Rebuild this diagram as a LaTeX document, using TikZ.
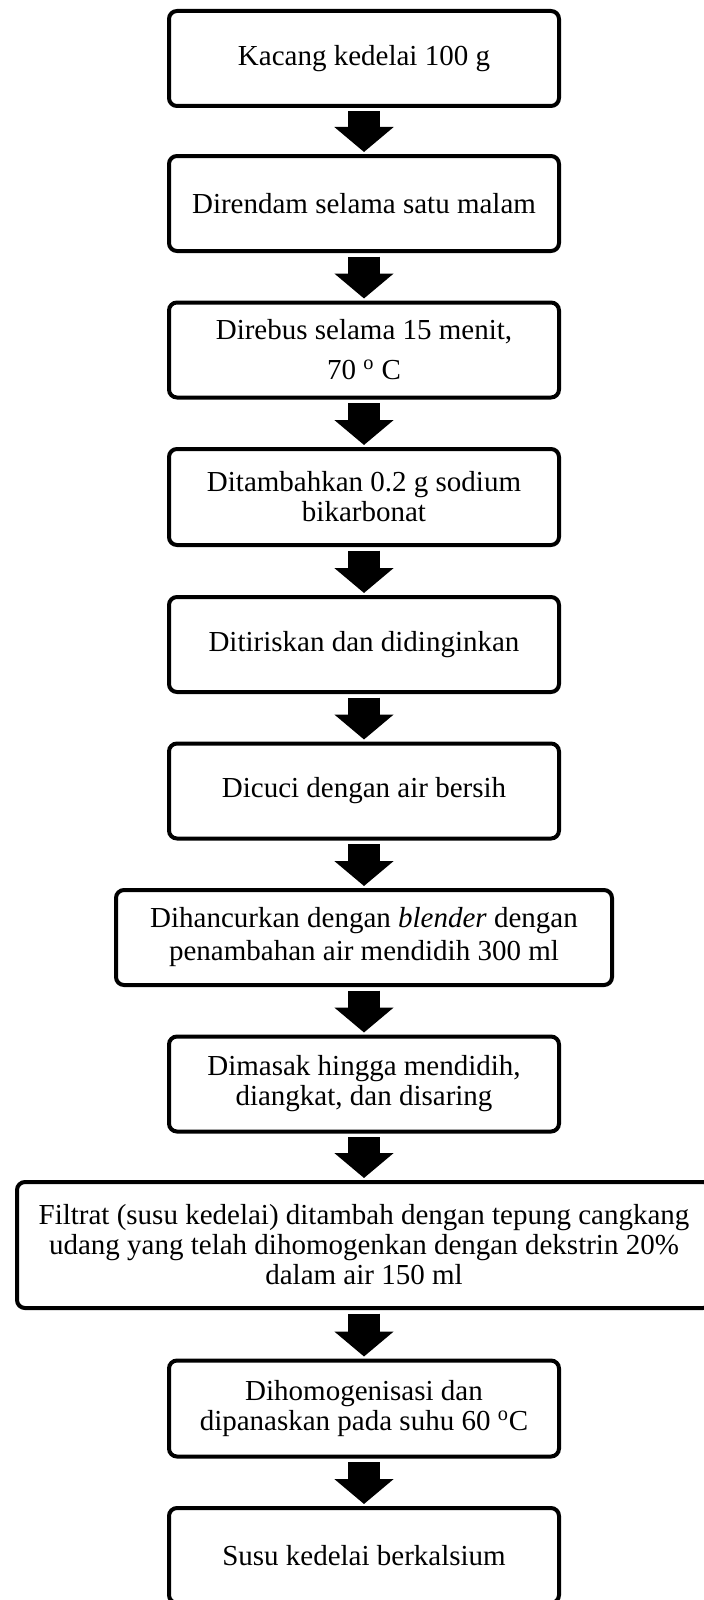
\documentclass[tikz,border=0pt]{standalone}
\usepackage{fontspec}
\setmainfont{Liberation Serif}
\usetikzlibrary{arrows.meta,positioning}
\newcommand\dgo{\textsuperscript{o}}

\begin{document}
\begin{tikzpicture}[x=0.5pt,y=-0.5pt]%
        \useasboundingbox (0,0) rectangle (704,1600);%%
        \clip (0,0) rectangle (704,1600);%%
        \tikzstyle{flow}=[line width=16pt,-{Triangle[width=29pt,length=12.5pt]},shorten <=1.75pt,shorten >=1pt] %%
        \begin{scope}[shape=rectangle,inner sep=0pt]
        \tikzstyle{every node}=[draw,fill=white,line width=2pt,rounded corners=4pt,align=center,minimum width=195pt,minimum height=47.5pt,font=\fontsize{14.5}{15}\selectfont] %%
        \node (k1) at (364,58.5)  {Kacang kedelai 100 g}; %%
        \node (k2) at (364,203.5)  {Direndam selama satu malam}; %%
        \node[font=\fontsize{14.5}{20}\selectfont] (k3) at (364,350)  {Direbus selama 15 menit,\\70 \dgo{} C}; %%
        \node[minimum height=48pt] (k4) at (364,497)  {Ditambahkan 0.2 g sodium\\bikarbonat}; %%
        \node (k5) at (364,644.5)  {Ditiriskan dan didinginkan}; %%
        \node (k6) at (364,791)  {Dicuci dengan air bersih}; %%
        \node[minimum width=248pt,font=\fontsize{14.5}{16.5}\selectfont] (k7) at (364,937.5)  {Dihancurkan dengan \textit{blender} dengan\\penambahan air mendidih 300 ml}; %%
        \node (k8) at (364,1084)  {Dimasak hingga mendidih,\\diangkat, dan disaring}; %%
        \node[minimum width=347pt,minimum height=63pt] (k9) at (364,1245)  {Filtrat (susu kedelai) ditambah dengan tepung cangkang\\udang yang telah dihomogenkan dengan dekstrin 20\%\\dalam air 150 ml}; %%
        \node[minimum height=48pt] (k10) at (364,1408.5)  {Dihomogenisasi dan\\dipanaskan pada suhu 60 \dgo C}; %%
        \node (k11) at (364,1555.5)  {Susu kedelai berkalsium}; %%
        \end{scope}
        \draw[flow] (k1)--(k2); %%
        \draw[flow] (k2)--(k3); %%
        \draw[flow] (k3)--(k4); %%
        \draw[flow] (k4)--(k5); %%
        \draw[flow] (k5)--(k6); %%
        \draw[flow] (k6)--(k7); %%
        \draw[flow] (k7)--(k8); %%
        \draw[flow] (k8)--(k9); %%
        \draw[flow] (k9)--(k10); %%
        \draw[flow] (k10)--(k11); %%
        \end{tikzpicture}
\end{document}
